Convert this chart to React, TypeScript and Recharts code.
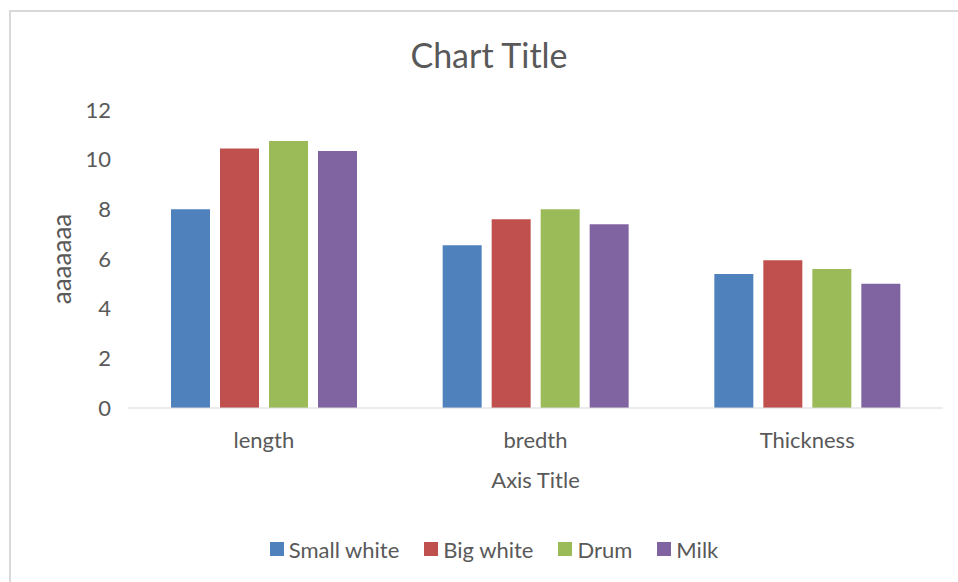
import { BarChart, Bar, XAxis, YAxis, Legend } from "recharts";

const categories = ["length", "bredth", "Thickness"];
const smallWhite = [8.0, 6.55, 5.4];
const bigWhite = [10.45, 7.6, 5.95];
const drum = [10.75, 8.0, 5.6];
const milk = [10.35, 7.4, 5.0];
const yTicks = [0, 2, 4, 6, 8, 10, 12];

const series = [
  { key: "smallWhite", name: "Small white", color: "#4F81BD" },
  { key: "bigWhite", name: "Big white", color: "#C0504D" },
  { key: "drum", name: "Drum", color: "#9BBB59" },
  { key: "milk", name: "Milk", color: "#8064A2" },
];

const data = categories.map((c, i) => ({
  name: c,
  smallWhite: smallWhite[i],
  bigWhite: bigWhite[i],
  drum: drum[i],
  milk: milk[i],
}));

const FONT = "Lato, 'Liberation Sans', sans-serif";
const TEXT = "#595959";

function LegendContent() {
  return (
    <div
      style={{
        display: "flex",
        justifyContent: "center",
        gap: 25,
        fontFamily: FONT,
        fontSize: 22,
        color: TEXT,
        height: 24,
        alignItems: "center",
      }}
    >
      {series.map((s) => (
        <div key={s.key} style={{ display: "flex", alignItems: "center" }}>
          <span
            style={{
              width: 14,
              height: 14,
              background: s.color,
              display: "inline-block",
              marginRight: 5,
            }}
          />
          <span>{s.name}</span>
        </div>
      ))}
    </div>
  );
}

export default function App() {
  return (
    <div
      style={{
        position: "absolute",
        left: 0,
        top: 0,
        width: 958,
        height: 582,
        background: "#fff",
        fontFamily: FONT,
      }}
    >
      <div
        style={{
          position: "absolute",
          left: 9,
          top: 10,
          width: 949,
          height: 572,
          borderLeft: "2px solid #d9d9d9",
          borderTop: "2px solid #d9d9d9",
          boxSizing: "border-box",
        }}
      />
      <div
        style={{
          position: "absolute",
          left: 10,
          width: 958,
          top: 35,
          textAlign: "center",
          fontSize: 34,
          color: TEXT,
          lineHeight: "40px",
        }}
      >
        Chart Title
      </div>
      <BarChart
        width={958}
        height={582}
        data={data}
        margin={{ top: 110, right: 15, bottom: 70, left: 40 }}
        barCategoryGap="16%"
        barGap={10}
        style={{ position: "absolute", left: 0, top: 0 }}
      >
        <YAxis
          width={88}
          domain={[0, 12]}
          ticks={yTicks}
          axisLine={false}
          tickLine={false}
          tickMargin={11}
          tick={{ fill: TEXT, fontSize: 22, fontFamily: FONT }}
          label={{
            value: "aaaaaaa",
            angle: -90,
            position: "insideLeft",
            offset: 22,
            style: { textAnchor: "middle", fill: TEXT, fontSize: 26, fontFamily: FONT },
          }}
        />
        <XAxis
          dataKey="name"
          height={80}
          axisLine={{ stroke: "#d9d9d9", strokeWidth: 1 }}
          tickLine={false}
          tickMargin={18}
          tick={{ fill: TEXT, fontSize: 22, fontFamily: FONT }}
          label={{
            value: "Axis Title",
            position: "insideBottom",
            offset: 0,
            style: { fill: TEXT, fontSize: 22, fontFamily: FONT },
          }}
        />
        <Legend
          verticalAlign="bottom"
          content={<LegendContent />}
          wrapperStyle={{ top: 537, bottom: "auto", left: 30, width: 928 }}
        />
        {series.map((s) => (
          <Bar
            key={s.key}
            dataKey={s.key}
            name={s.name}
            fill={s.color}
            barSize={39}
            isAnimationActive={false}
          />
        ))}
      </BarChart>
    </div>
  );
}
